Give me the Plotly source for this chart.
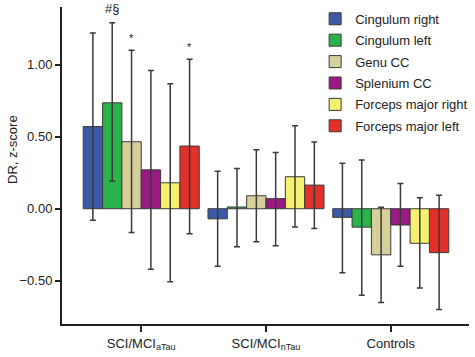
import plotly.graph_objects as go

groups = ["SCI/MCI<sub>aTau</sub>", "SCI/MCI<sub>nTau</sub>", "Controls"]
series_names = ["Cingulum right", "Cingulum left", "Genu CC", "Splenium CC",
                "Forceps major right", "Forceps major left"]
colors = ["#3B5BA9", "#2BB24C", "#D7D09A", "#9A1A85", "#F5F06E", "#E2302B"]

cingulum_right_mean = [0.57, -0.07, -0.06]
cingulum_right_upper = [1.22, 0.26, 0.315]
cingulum_right_lower = [-0.08, -0.40, -0.445]

cingulum_left_mean = [0.735, 0.012, -0.128]
cingulum_left_upper = [1.29, 0.28, 0.338]
cingulum_left_lower = [0.19, -0.264, -0.60]

genu_mean = [0.465, 0.09, -0.32]
genu_upper = [1.10, 0.41, 0.01]
genu_lower = [-0.165, -0.23, -0.65]

splenium_mean = [0.27, 0.07, -0.113]
splenium_upper = [0.96, 0.39, 0.175]
splenium_lower = [-0.42, -0.257, -0.40]

forceps_right_mean = [0.18, 0.222, -0.24]
forceps_right_upper = [0.868, 0.576, 0.076]
forceps_right_lower = [-0.507, -0.127, -0.55]

forceps_left_mean = [0.435, 0.164, -0.305]
forceps_left_upper = [1.037, 0.463, 0.094]
forceps_left_lower = [-0.174, -0.137, -0.70]

# significance markers for the first group
sig_marks = ["", "#§", "*", "", "", "*"]

means = [cingulum_right_mean, cingulum_left_mean, genu_mean, splenium_mean,
         forceps_right_mean, forceps_left_mean]
uppers = [cingulum_right_upper, cingulum_left_upper, genu_upper, splenium_upper,
          forceps_right_upper, forceps_left_upper]
lowers = [cingulum_right_lower, cingulum_left_lower, genu_lower, splenium_lower,
          forceps_right_lower, forceps_left_lower]

FONT = "Liberation Sans, Arial, Helvetica, sans-serif"
BARGAP = 0.07

fig = go.Figure()
for name, col, m, up, lo in zip(series_names, colors, means, uppers, lowers):
    fig.add_trace(go.Bar(
        x=groups, y=m, name=name,
        marker=dict(color=col, line=dict(color="#3a3a3a", width=1)),
        error_y=dict(type="data", symmetric=False,
                     array=[u - v for u, v in zip(up, m)],
                     arrayminus=[v - l for v, l in zip(m, lo)],
                     color="#3a3a3a", thickness=1.5, width=3),
        legendgroup=name,
    ))

n = len(series_names)
bw = (1 - BARGAP) / n
annotations = []
for i, mark in enumerate(sig_marks):
    if not mark:
        continue
    xpos = 0 + (i - (n - 1) / 2) * bw
    annotations.append(dict(
        x=xpos, y=uppers[i][0], xref="x", yref="y", text=mark,
        showarrow=False, yanchor="bottom", yshift=5 if mark != "*" else 4,
        font=dict(family=FONT, size=13 if mark != "*" else 11, color="#222222"),
    ))

annotations.append(dict(
    x=-0.122, y=0.55, xref="paper", yref="paper", text="DR, z-score",
    xanchor="center", yanchor="middle",
    textangle=-90, showarrow=False, font=dict(family=FONT, size=13, color="#222"),
))

fig.update_layout(
    width=475, height=357,
    margin=dict(l=62, r=2, t=7, b=33),
    plot_bgcolor="white", paper_bgcolor="white",
    barmode="group", bargap=BARGAP, bargroupgap=0,
    font=dict(family=FONT, size=13, color="#222"),
    showlegend=True,
    legend=dict(x=0.622, y=1.01, xanchor="left", yanchor="top",
                bgcolor="rgba(0,0,0,0)", tracegroupgap=1.5,
                font=dict(family=FONT, size=13, color="#222")),
    annotations=annotations,
    xaxis=dict(range=[-0.635, 2.627], showline=True, linecolor="#222", linewidth=2,
               ticks="outside", ticklen=6, tickwidth=2, tickcolor="#222",
               showgrid=False, zeroline=False, tickfont=dict(size=13)),
    yaxis=dict(range=[-0.8, 1.4], showline=True, linecolor="#222", linewidth=2,
               ticks="outside", ticklen=5, tickwidth=2, tickcolor="#222",
               tickvals=[-0.5, 0, 0.5, 1.0], tickformat=".2f",
               showgrid=False, zeroline=False, tickfont=dict(size=13)),
)

fig.write_html("out.html", config={"displayModeBar": False},
               post_script="document.body.style.margin='0px';")
